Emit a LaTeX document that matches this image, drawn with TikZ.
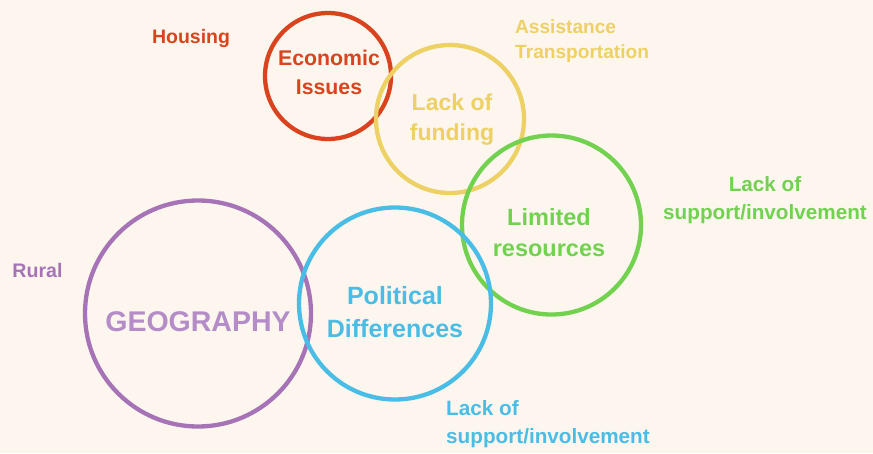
\documentclass[tikz,border=0pt]{standalone}
\usepackage{fontspec}
\setmainfont{Liberation Sans}
\definecolor{bg}{HTML}{FCF6EE}
\definecolor{cred}{HTML}{D9441E}
\definecolor{cyellow}{HTML}{EDD165}
\definecolor{cgreen}{HTML}{72D250}
\definecolor{cpurple}{HTML}{A674B6}
\definecolor{cpurpletext}{HTML}{B48DC8}
\definecolor{cblue}{HTML}{4ABDE6}
\tikzset{
  ring/.style={circle, draw=#1, line width=4.3pt, inner sep=0pt},
  lbl/.style={inner sep=0pt, align=center, text=#1},
}
\newcommand{\fsz}[2]{\bfseries\fontsize{#1}{#2}\selectfont}
\begin{document}
\begin{tikzpicture}[x=1pt,y=-1pt]
\fill[bg] (0,0) rectangle (873,453);
\useasboundingbox (0,0) rectangle (873,453);
% circles
\node[ring=cred, minimum size=126pt] (econ) at (328,76) {};
\node[ring=cyellow, minimum size=148pt] (fund) at (450,119) {};
\node[ring=cgreen, minimum size=179pt] (lim) at (551.5,225) {};
\node[ring=cpurple, minimum size=226pt] (geo) at (198,313.5) {};
\node[ring=cblue, minimum size=192pt] (pol) at (395,303.5) {};
% circle labels
\node[lbl=cred, font=\fsz{21.3}{29}] (econT) at (329,72.5) {Economic\\Issues};
\node[lbl=cyellow, font=\fsz{23}{30}] (fundT) at (452,120) {Lack of\\funding};
\node[lbl=cgreen, font=\fsz{23.5}{31}] (limT) at (549,232.5) {Limited\\resources};
\node[lbl=cpurpletext, font=\fsz{28.5}{34}] (geoT) at (198,322) {GEOGRAPHY};
\node[lbl=cblue, font=\fsz{25}{33}] (polT) at (395,312.5) {Political\\Differences};
% side labels
\node[lbl=cred, font=\fsz{19.5}{24}] (housing) at (191,38) {Housing};
\node[lbl=cyellow, font=\fsz{19.1}{25}, align=left, anchor=west] (assist) at (515,41) {Assistance\\Transportation};
\node[lbl=cgreen, font=\fsz{20.7}{28}] (supG) at (765,200) {Lack of\\support/involvement};
\node[lbl=cpurple, font=\fsz{19.6}{24}] (rural) at (37.5,270) {Rural};
\node[lbl=cblue, font=\fsz{20.7}{28}, align=left, anchor=west] (supB) at (446,424) {Lack of\\support/involvement};
\end{tikzpicture}
\end{document}
